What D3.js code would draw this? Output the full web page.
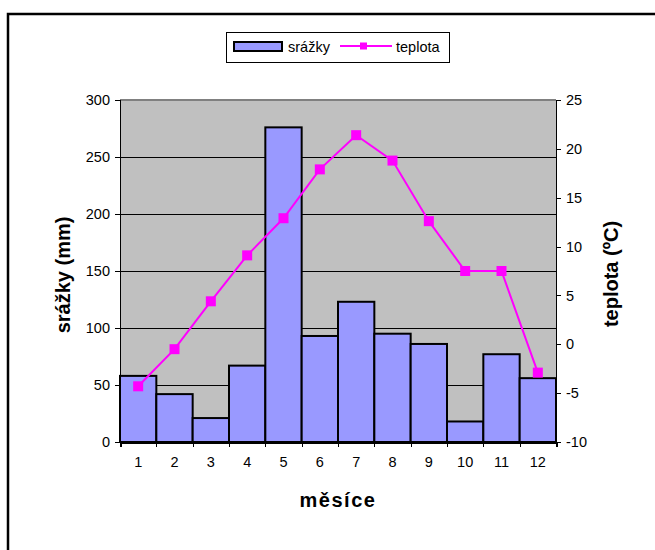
<!DOCTYPE html>
<html>
  <head>
    <meta charset="utf-8">
    <script src="https://cdn.jsdelivr.net/npm/d3@7"></script>
    <style type="text/css">
      body { margin: 0; background: #fff; }
      text { font-family: "Liberation Sans", Arial, sans-serif; fill: #000; }
      .axis path, .axis line { stroke: #000; shape-rendering: crispEdges; }
      .axis text { font-size: 14.5px; }
      .grid line { stroke: #000; stroke-width: 1; shape-rendering: crispEdges; }
      .grid path { display: none; }
      .title { font-size: 20px; font-weight: bold; }
    </style>
  </head>
  <body>
    <div class="plot_canvas"></div>
    <script>
      // data
      var mesice  = ["1", "2", "3", "4", "5", "6", "7", "8", "9", "10", "11", "12"];
      var srazky  = [58, 42, 21, 67, 276, 93, 123, 95, 86, 18, 77, 56];
      var teplota = [-4.3, -0.5, 4.4, 9.1, 12.9, 17.9, 21.4, 18.8, 12.6, 7.5, 7.5, -2.9];
      var srazkyTicks  = [0, 50, 100, 150, 200, 250, 300];
      var teplotaTicks = [-10, -5, 0, 5, 10, 15, 20, 25];

      var width = 655;
      var height = 550;
      var plot = {left: 120, right: 556, top: 100, bottom: 442};

      var svg = d3.select(".plot_canvas")
        .append("svg")
        .attr("width", width)
        .attr("height", height);

      // outer frame (runs off the right and bottom edges)
      svg.append("rect")
        .attr("x", 8).attr("y", 14)
        .attr("width", 800).attr("height", 800)
        .attr("fill", "none")
        .attr("stroke", "#000")
        .attr("stroke-width", 2.5);

      var xScale = d3.scaleBand()
        .domain(mesice)
        .range([plot.left, plot.right])
        .padding(0);

      var xEdges = d3.scaleLinear()
        .domain([0, mesice.length])
        .range([plot.left, plot.right]);

      var yLeft = d3.scaleLinear()
        .domain([0, 300])
        .range([plot.bottom, plot.top]);

      var yRight = d3.scaleLinear()
        .domain([-10, 25])
        .range([plot.bottom, plot.top]);

      // plot area
      svg.append("rect")
        .attr("x", plot.left).attr("y", plot.top)
        .attr("width", plot.right - plot.left)
        .attr("height", plot.bottom - plot.top)
        .attr("fill", "#c0c0c0");

      svg.append("line")
        .attr("x1", plot.left).attr("x2", plot.right)
        .attr("y1", plot.top).attr("y2", plot.top)
        .attr("stroke", "#808080")
        .attr("stroke-width", 2);

      // gridlines
      svg.append("g")
        .attr("class", "grid")
        .attr("transform", "translate(" + plot.left + ",0)")
        .call(d3.axisLeft(yLeft)
          .tickValues(srazkyTicks.slice(1, -1))
          .tickSize(-(plot.right - plot.left))
          .tickFormat(""));

      // bars
      svg.append("g").selectAll("rect")
        .data(srazky).enter()
        .append("rect")
        .attr("x", function (d, i) { return xScale(mesice[i]); })
        .attr("y", function (d) { return yLeft(d); })
        .attr("width", xScale.bandwidth())
        .attr("height", function (d) { return plot.bottom - yLeft(d); })
        .attr("fill", "#9999ff")
        .attr("stroke", "#000")
        .attr("stroke-width", 2);

      // temperature line
      var line = d3.line()
        .x(function (d, i) { return xScale(mesice[i]) + xScale.bandwidth() / 2; })
        .y(function (d) { return yRight(d); });

      svg.append("path")
        .attr("d", line(teplota))
        .attr("fill", "none")
        .attr("stroke", "#ff00ff")
        .attr("stroke-width", 2);

      svg.append("g").selectAll("rect")
        .data(teplota).enter()
        .append("rect")
        .attr("x", function (d, i) { return xScale(mesice[i]) + xScale.bandwidth() / 2 - 5; })
        .attr("y", function (d) { return yRight(d) - 5; })
        .attr("width", 10)
        .attr("height", 10)
        .attr("fill", "#ff00ff");

      // axes
      var fmt = function (d) { return String(d); };

      svg.append("g")
        .attr("class", "axis")
        .attr("transform", "translate(" + plot.left + ",0)")
        .call(d3.axisLeft(yLeft).tickValues(srazkyTicks).tickSize(5).tickPadding(5).tickFormat(fmt))
        .select(".domain").attr("stroke-width", 1.5);

      svg.append("g")
        .attr("class", "axis")
        .attr("transform", "translate(" + plot.right + ",0)")
        .call(d3.axisRight(yRight).tickValues(teplotaTicks).tickSize(5).tickPadding(5).tickFormat(fmt))
        .select(".domain").attr("stroke-width", 1.5);

      svg.append("g")
        .attr("class", "axis")
        .attr("transform", "translate(0," + plot.bottom + ")")
        .call(d3.axisBottom(xEdges).ticks(mesice.length).tickSize(5).tickFormat(""))
        .select(".domain").attr("stroke-width", 2);

      var xLabels = svg.append("g")
        .attr("class", "axis")
        .attr("transform", "translate(0," + plot.bottom + ")")
        .call(d3.axisBottom(xScale).tickSize(0).tickPadding(15));
      xLabels.select(".domain").remove();

      // axis titles
      svg.append("text")
        .attr("class", "title")
        .attr("text-anchor", "middle")
        .attr("transform", "translate(70," + 275 + ") rotate(-90)")
        .text("srážky (mm)");

      svg.append("text")
        .attr("class", "title")
        .attr("text-anchor", "middle")
        .attr("transform", "translate(618," + 274 + ") rotate(-90)")
        .text("teplota (ºC)");

      svg.append("text")
        .attr("class", "title")
        .attr("text-anchor", "middle")
        .attr("letter-spacing", "1.5px")
        .attr("x", (plot.left + plot.right) / 2)
        .attr("y", 507)
        .text("měsíce");

      // legend
      var legend = svg.append("g").attr("class", "legend");
      legend.append("rect")
        .attr("x", 226.5).attr("y", 32.5)
        .attr("width", 223).attr("height", 30)
        .attr("fill", "#fff")
        .attr("stroke", "#000")
        .attr("stroke-width", 1);
      legend.append("rect")
        .attr("x", 234).attr("y", 42)
        .attr("width", 48).attr("height", 9)
        .attr("fill", "#9999ff")
        .attr("stroke", "#000")
        .attr("stroke-width", 2);
      legend.append("text")
        .attr("x", 288).attr("y", 52)
        .style("font-size", "14.5px")
        .text("srážky");
      legend.append("line")
        .attr("x1", 340).attr("x2", 392)
        .attr("y1", 46).attr("y2", 46)
        .attr("stroke", "#ff00ff")
        .attr("stroke-width", 2);
      legend.append("rect")
        .attr("x", 360).attr("y", 42.5)
        .attr("width", 7).attr("height", 7)
        .attr("fill", "#ff00ff");
      legend.append("text")
        .attr("x", 396).attr("y", 52)
        .style("font-size", "14.5px")
        .text("teplota");
    </script>
  </body>
</html>
